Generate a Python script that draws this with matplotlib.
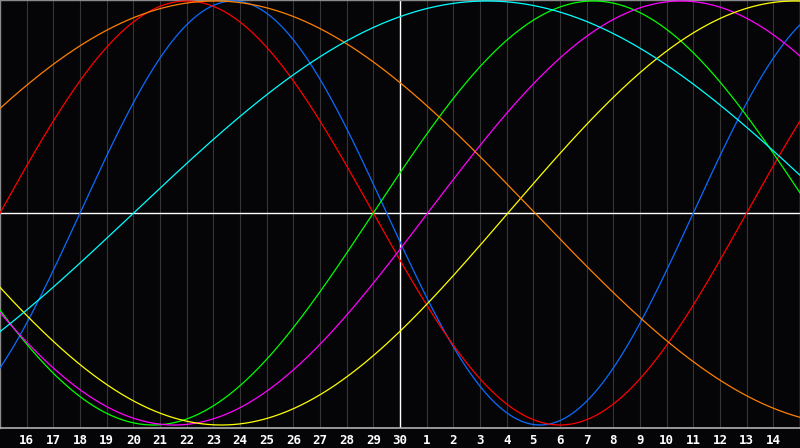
import numpy as np
import matplotlib
matplotlib.use('Agg')
import matplotlib.pyplot as plt

# Day labels along the bottom (one per grid line)
day_labels = [16, 17, 18, 19, 20, 21, 22, 23, 24, 25, 26, 27, 28, 29, 30,
              1, 2, 3, 4, 5, 6, 7, 8, 9, 10, 11, 12, 13, 14]
today_index = 15  # position of "30" (the marked day)

# Cycles: period in days and days elapsed in the cycle at the left edge
cycle_names = ['physical', 'emotional', 'intellectual', 'intuitive',
               'aesthetic', 'awareness', 'spiritual']
cycle_periods = [23, 28, 33, 38, 43, 48, 53]
cycle_phase = [20.0, 0.0, 19.0, 21.96, 23.95, 3.94, 47.99]
cycle_colors = ['#0a6cff', '#ff0000', '#00ff00', '#ff00ff',
                '#ffff00', '#ff8000', '#00ffff']

bg = '#050508'
fig = plt.figure(figsize=(8, 4.48), dpi=100, facecolor=bg)
ax = fig.add_axes([0, 20 / 448, 1, 428 / 448])
ax.set_facecolor(bg)

n_days = len(day_labels) + 1
ax.set_xlim(0, n_days)
ax.set_ylim(-1 - 3 / 212, 1 + 1 / 212)

# vertical day grid
for k in range(1, n_days):
    ax.axvline(k, color='#353535', lw=0.8, zorder=1)

t = np.linspace(0, n_days, 1600)
for name, p, ph, c in zip(cycle_names, cycle_periods, cycle_phase, cycle_colors):
    ax.plot(t, np.sin(2 * np.pi * (t + ph) / p), color=c, lw=0.9, zorder=3, label=name)

# centre cross
ax.axhline(0, color='white', lw=1.0, zorder=2)
ax.axvline(today_index, color='white', lw=1.0, zorder=2)

for s in ['left', 'top', 'right']:
    ax.spines[s].set_color('#8a8a8a')
    ax.spines[s].set_linewidth(1.0)
ax.spines['bottom'].set_color('#b0b0b0')
ax.spines['bottom'].set_linewidth(1.2)

ax.set_yticks([])
ax.set_xticks(range(1, n_days))
ax.set_xticklabels([str(d) for d in day_labels], color='white',
                   fontsize=9, fontweight='bold', family='DejaVu Sans Mono')
ax.tick_params(axis='x', length=0, pad=4)

fig.savefig('out.png', dpi=100, facecolor=bg)
